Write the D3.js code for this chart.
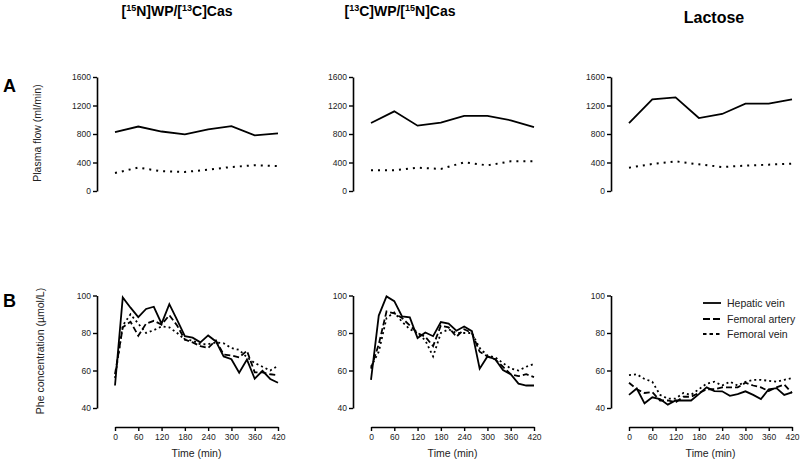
<!DOCTYPE html>
<html><head><meta charset="utf-8">
<script src="https://cdn.jsdelivr.net/npm/d3@7"></script>
<style>
body{margin:0;background:#fff;}
svg{display:block;font-family:Arial,"Liberation Sans",sans-serif;}
</style></head>
<body><svg id="c" width="800" height="460"></svg>
<script>
// ---------- data ----------
const flowTimes = [0, 60, 120, 180, 240, 300, 360, 420];
const flowTicks = [0, 400, 800, 1200, 1600];
const pheTimes = [0, 20, 40, 60, 80, 100, 120, 140, 160, 180, 200, 220, 240, 260, 280, 300, 320, 340, 360, 380, 400, 420];
const pheTicks = [40, 60, 80, 100];
const timeTicks = [0, 60, 120, 180, 240, 300, 360, 420];
const seriesNames = ["Hepatic vein", "Femoral artery", "Femoral vein"];

// panel 1: [15N]WP/[13C]Cas
const flowSolid1 = [825, 905, 835, 795, 865, 910, 780, 810];
const flowDotted1 = [253, 328, 277, 267, 300, 337, 361, 351];
const hepatic1 = [52, 99, 93.5, 88.5, 92.8, 94, 85, 95.4, 87, 78.3, 77.5, 75, 78.7, 75.5, 67.5, 66, 58.8, 65.8, 55.6, 59.8, 55.5, 53.5];
const artery1 = [58, 83, 86, 78.5, 85, 86.5, 84.5, 89.5, 84, 76.5, 75, 73, 72, 76, 68.5, 68, 67, 70.5, 59, 59, 58, 57.5];
const vein1 = [56, 84, 90, 85, 80, 81.5, 83.5, 83, 80, 76.5, 76, 74, 74, 75, 74.5, 72, 71, 67, 64, 62, 60, 62.5];

// panel 2: [13C]WP/[15N]Cas
const flowSolid2 = [954, 1118, 917, 959, 1053, 1053, 992, 898];
const flowDotted2 = [290, 290, 327, 310, 402, 360, 416, 416];
const hepatic2 = [55, 89.3, 99.5, 97, 88.8, 88.3, 77.3, 80.3, 78.3, 85.8, 85, 81.2, 83.5, 81, 61, 67.5, 66, 60.3, 58, 53, 52, 52];
const artery2 = [61, 74, 91.5, 90.5, 88, 84, 80, 78, 73, 84, 83, 78, 82, 80, 70, 67.5, 66, 62, 58, 57, 58, 56.5];
const vein2 = [62, 70, 88, 91, 86, 82, 80, 76, 67.5, 80, 82, 80, 80, 80, 72, 68, 67, 64, 61, 60, 62, 63.5];

// panel 3: Lactose
const flowSolid3 = [954, 1286, 1315, 1024, 1081, 1226, 1226, 1286];
const flowDotted3 = [327, 379, 416, 374, 337, 356, 370, 384];
const hepatic3 = [47, 50.4, 42.5, 45.7, 44.8, 41.8, 44, 44, 44, 47.4, 51, 49, 48.9, 46.5, 47.4, 48.9, 47, 44.8, 50, 50.6, 47, 48.3];
const artery3 = [53.5, 50, 48, 48.5, 44, 44, 43, 46, 46, 48, 50, 50, 51, 51, 51, 53.5, 52, 51, 49, 51, 52.5, 48];
const vein3 = [57.5, 58, 55.5, 54, 47, 45, 45, 48, 47, 50, 53, 54, 52, 54, 52, 54, 55, 55, 54.5, 54, 55, 56];

// ---------- layout ----------
const svg = d3.select("#c");
const panels = [
  {ax: 97, flow: [flowSolid1, flowDotted1], phe: [hepatic1, artery1, vein1]},
  {ax: 353, flow: [flowSolid2, flowDotted2], phe: [hepatic2, artery2, vein2]},
  {ax: 611, flow: [flowSolid3, flowDotted3], phe: [hepatic3, artery3, vein3]}
];
const styles = [
  {dash: null, w: 1.8},
  {dash: "6,3", w: 1.8},
  {dash: "2,3", w: 1.8}
];

function styleAxis(g, fs) {
  g.select(".domain").attr("stroke", "#000").attr("stroke-width", 1.6);
  g.selectAll(".tick line").attr("stroke", "#000").attr("stroke-width", 1.4);
  g.selectAll(".tick text").attr("fill", "#222").attr("font-size", fs)
    .attr("font-family", "Arial, 'Liberation Sans', sans-serif");
}

panels.forEach((p, i) => {
  const x = d3.scaleLinear().domain([0, 420]).range([p.ax + 18, p.ax + 181]);
  const yF = d3.scaleLinear().domain([0, 1600]).range([191, 77]);
  const yP = d3.scaleLinear().domain([40, 100]).range([408, 295.5]);

  // top panel axis
  svg.append("g").attr("transform", `translate(${p.ax},0)`)
    .call(d3.axisLeft(yF).tickValues(flowTicks).tickSize(4).tickSizeOuter(0).tickPadding(2).tickFormat(d3.format("d")))
    .call(g => styleAxis(g, 8.5));

  const lineF = d3.line().x((d, j) => x(flowTimes[j])).y(d => yF(d));
  svg.append("path").datum(p.flow[0]).attr("d", lineF)
    .attr("fill", "none").attr("stroke", "#000").attr("stroke-width", 1.8);
  svg.append("path").datum(p.flow[1]).attr("d", lineF)
    .attr("fill", "none").attr("stroke", "#000").attr("stroke-width", 2).attr("stroke-dasharray", "2,5");

  // bottom panel axes
  svg.append("g").attr("transform", `translate(${p.ax},0)`)
    .call(d3.axisLeft(yP).tickValues(pheTicks).tickSize(4).tickSizeOuter(0).tickPadding(2))
    .call(g => styleAxis(g, 8.5));
  svg.append("g").attr("transform", "translate(0,427)")
    .call(d3.axisBottom(x).tickValues(timeTicks).tickSize(4).tickSizeOuter(0).tickPadding(3))
    .call(g => styleAxis(g, 8.5));

  const lineP = d3.line().x((d, j) => x(pheTimes[j])).y(d => yP(d));
  p.phe.forEach((s, k) => {
    svg.append("path").datum(s).attr("d", lineP)
      .attr("fill", "none").attr("stroke", "#000").attr("stroke-width", styles[k].w)
      .attr("stroke-dasharray", styles[k].dash);
  });

  svg.append("text").attr("x", (x.range()[0] + x.range()[1]) / 2).attr("y", 457)
    .attr("text-anchor", "middle").attr("font-size", 10.5).attr("fill", "#222").text("Time (min)");
});

// titles
function isoTitle(cx, parts) {
  const t = svg.append("text").attr("x", cx).attr("y", 16).attr("text-anchor", "middle")
    .attr("font-size", 14).attr("font-weight", "bold").attr("fill", "#000");
  let up = false;
  parts.forEach(([s, sup]) => {
    const ts = t.append("tspan").text(s);
    if (sup && !up) { ts.attr("dy", -5).attr("font-size", 9); up = true; }
    else if (!sup && up) { ts.attr("dy", 5); up = false; }
  });
}
isoTitle(177, [["[", 0], ["15", 1], ["N]WP/[", 0], ["13", 1], ["C]Cas", 0]]);
isoTitle(400, [["[", 0], ["13", 1], ["C]WP/[", 0], ["15", 1], ["N]Cas", 0]]);
svg.append("text").attr("x", 714).attr("y", 23).attr("text-anchor", "middle")
  .attr("font-size", 16).attr("font-weight", "bold").text("Lactose");

// panel letters
svg.append("text").attr("x", 3).attr("y", 92).attr("font-size", 18).attr("font-weight", "bold").text("A");
svg.append("text").attr("x", 3).attr("y", 307).attr("font-size", 18).attr("font-weight", "bold").text("B");

// y titles
svg.append("text").attr("transform", "translate(41,133) rotate(-90)").attr("text-anchor", "middle")
  .attr("font-size", 10.5).attr("fill", "#222").text("Plasma flow (ml/min)");
svg.append("text").attr("transform", "translate(44,351) rotate(-90)").attr("text-anchor", "middle")
  .attr("font-size", 10.5).attr("fill", "#222").text("Phe concentration (µmol/L)");

// legend
const leg = svg.append("g");
seriesNames.forEach((n, k) => {
  const yy = [303, 319, 334][k];
  leg.append("line").attr("x1", 703).attr("x2", 721).attr("y1", yy).attr("y2", yy)
    .attr("stroke", "#000").attr("stroke-width", 1.8)
    .attr("stroke-dasharray", k === 0 ? null : (k === 1 ? "7,3" : "3.5,3"));
  leg.append("text").attr("x", 727).attr("y", yy + 3.5).attr("font-size", 10.5).attr("fill", "#222").text(n);
});
</script></body></html>
